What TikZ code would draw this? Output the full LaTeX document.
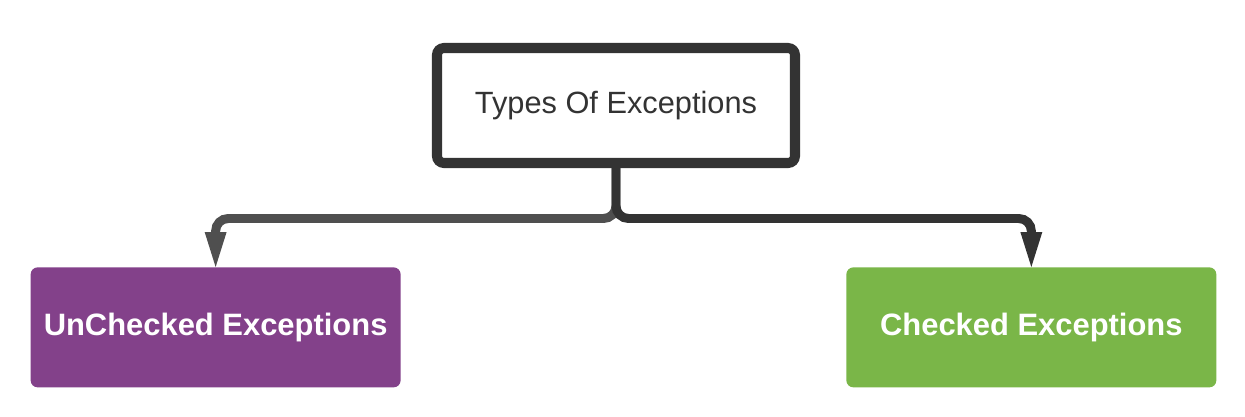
\documentclass[tikz,border=0pt]{standalone}
\usepackage{fontspec}
\setmainfont{Liberation Sans}
\usetikzlibrary{arrows.meta, positioning}
\definecolor{excdark}{HTML}{333333}
\definecolor{excgrey}{HTML}{4F4F4F}
\definecolor{excpurple}{HTML}{83418A}
\definecolor{excgreen}{HTML}{7AB648}
\tikzset{
  rootbox/.style={draw=excdark, line width=5.7pt, fill=white, rounded corners=4pt, minimum width=7.16cm, minimum height=2.3cm, align=center, font=\fontsize{17.5}{21}\selectfont, text=excdark},
  kindbox/.style={rounded corners=4pt, minimum width=7.4cm, minimum height=2.4cm, align=center, font=\fontsize{17.6}{21}\selectfont\bfseries, text=white},
  conn/.style={-{Triangle[length=0.7cm, width=0.44cm, line width=0pt]}, line width=5.1pt, rounded corners=0.25cm}
}
\begin{document}
\begin{tikzpicture}
  \useasboundingbox (-12.32,2.11) rectangle (12.58,-6.23);
  \node[rootbox] (types) at (0,0) {Types Of Exceptions};
  \node[kindbox, fill=excpurple, below left=1.98cm and 0.62cm of types] (unchecked) {UnChecked Exceptions};
  \node[kindbox, fill=excgreen, below right=1.98cm and 0.92cm of types] (checked) {Checked Exceptions};
  \coordinate[below=1.01cm of types] (split);
  \draw[conn, excgrey] (types.south) -- (split) -| (unchecked.north);
  \draw[conn, excdark] (types.south) -- (split) -| (checked.north);
\end{tikzpicture}
\end{document}
